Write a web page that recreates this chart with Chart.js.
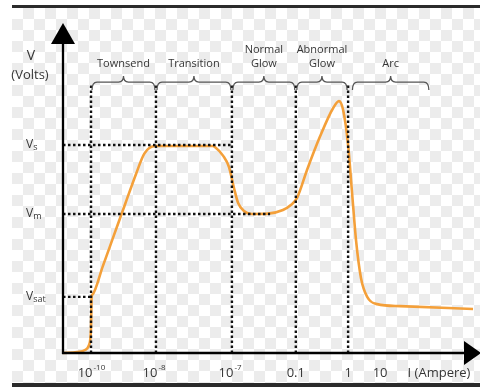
<!DOCTYPE html>
<html><head><meta charset="utf-8">
<script src="https://cdn.jsdelivr.net/npm/chart.js@4"></script>
<style>
html,body{margin:0;padding:0;background:#fff;}
#wrap{position:relative;width:480px;height:387px;overflow:hidden;background:#fff;}
#checker{position:absolute;left:12px;top:8px;width:468px;height:376px;background:repeating-conic-gradient(#ececec 0 25%, #ffffff 0 50%) 0 0/22px 22px;}
#topbar{position:absolute;left:12px;top:5px;width:468px;height:3px;background:#2b2b2b;}
#botbar{position:absolute;left:12px;top:383px;width:468px;height:4px;background:#2b2b2b;}
canvas{position:absolute;left:0;top:0;}
</style></head><body>
<div id="wrap"><div id="checker"></div><div id="topbar"></div><div id="botbar"></div><canvas id="c" width="480" height="387"></canvas></div>
<script>
// Schematic V-I curve of a gas discharge (axis units: 0-100 schematic positions)
const curveX = [0, 3.4, 5.3, 6.2, 6.6, 6.75, 6.9, 7.1, 9.6, 12.3, 15.0, 17.6, 19.6, 22.2, 36.1, 36.6, 38.6, 40.0, 41.2, 42.2, 43.6, 45.5, 49.4, 53.0, 54.9, 56.4, 58.8, 61.9, 65.1, 66.5, 67.5, 68.7, 69.6, 70.6, 71.8, 73.3, 75.7, 81.2, 98.8];
const curveY = [0, 0.3, 0.9, 2.2, 4.5, 8.0, 17.1, 17.8, 26.5, 36.0, 45.5, 54.6, 60.8, 63.1, 63.1, 62.8, 60.1, 56.7, 50.3, 45.7, 43.3, 42.4, 42.5, 43.6, 45.1, 47.3, 55.8, 65.9, 74.7, 76.8, 74.1, 63.4, 49.7, 34.5, 22.9, 17.1, 14.9, 14.3, 13.4];

const tickPositions = [6.75, 22.4, 40.7, 56.1, 68.7, 76.4];
const tickBase = ['10', '10', '10', '0.1', '1', '10'];
const tickExp = ['-10', '-8', '-7', '', '', ''];
const dividerPositions = [6.75, 22.4, 40.7, 56.1, 68.7];

const levelValues = [63.4, 42.4, 17.1];
const levelMain = ['V', 'V', 'V'];
const levelSub = ['s', 'm', 'sat'];
const levelLineEnds = [40.7, 49.9, 6.75];

const regionLines = [['Townsend'], ['Transition'], ['Normal', 'Glow'], ['Abnormal', 'Glow'], ['Arc']];
const regionStart = [6.75, 22.4, 40.7, 56.1, 69.5];
const regionEnd = [22.4, 40.7, 56.1, 68.7, 88.4];
const braceLevel = 82.6;
const dividerTop = 82.3;

const yAxisTitle = ['V', '(Volts)'];
const xAxisTitle = 'I (Ampere)';

const FONT = '"Open Sans", "DejaVu Sans", sans-serif';
const TEXT = '#363636';

const decor = {
  id: 'decor',
  afterDatasetsDraw(chart) {
    const ctx = chart.ctx;
    const xs = chart.scales.x, ys = chart.scales.y;
    const X = v => xs.getPixelForValue(v), Y = v => ys.getPixelForValue(v);
    const x0 = X(0), y0 = Y(0);
    ctx.save();
    // dotted guide lines
    ctx.strokeStyle = '#111';
    ctx.lineWidth = 2.4;
    ctx.setLineDash([2.5, 2.5]);
    dividerPositions.forEach(p => {
      ctx.beginPath(); ctx.moveTo(X(p), y0); ctx.lineTo(X(p), Y(dividerTop)); ctx.stroke();
    });
    levelValues.forEach((v, i) => {
      ctx.beginPath(); ctx.moveTo(x0, Y(v)); ctx.lineTo(X(levelLineEnds[i]), Y(v)); ctx.stroke();
    });
    ctx.setLineDash([]);
    // axes
    ctx.strokeStyle = '#000'; ctx.fillStyle = '#000';
    ctx.lineWidth = 2.3;
    ctx.beginPath(); ctx.moveTo(x0, y0 + 1); ctx.lineTo(x0, 42); ctx.stroke();
    ctx.beginPath(); ctx.moveTo(x0 - 1, y0); ctx.lineTo(466, y0); ctx.stroke();
    ctx.beginPath(); ctx.moveTo(x0, 23); ctx.lineTo(x0 - 12, 44); ctx.lineTo(x0 + 12, 44); ctx.closePath(); ctx.fill();
    ctx.beginPath(); ctx.moveTo(481, y0); ctx.lineTo(464, y0 - 12); ctx.lineTo(464, y0 + 12); ctx.closePath(); ctx.fill();
    // braces
    ctx.strokeStyle = '#555'; ctx.lineWidth = 1.3;
    const by = Y(braceLevel);
    regionStart.forEach((s, i) => {
      const a = X(s) + 1, b = X(regionEnd[i]) - 1, m = (a + b) / 2, r = 5;
      ctx.beginPath();
      ctx.moveTo(a, by + 8);
      ctx.quadraticCurveTo(a, by, a + r, by);
      ctx.lineTo(m - r, by);
      ctx.quadraticCurveTo(m, by, m, by - 6);
      ctx.quadraticCurveTo(m, by, m + r, by);
      ctx.lineTo(b - r, by);
      ctx.quadraticCurveTo(b, by, b, by + 8);
      ctx.stroke();
      // labels
      ctx.fillStyle = TEXT; ctx.font = '11px ' + FONT;
      ctx.textAlign = 'center'; ctx.textBaseline = 'middle';
      const lines = regionLines[i];
      lines.forEach((t, k) => {
        const ty = by - 18 - (lines.length - 1 - k) * 14;
        ctx.fillText(t, m, ty);
      });
    });
    // x tick labels
    ctx.fillStyle = TEXT;
    const ty = y0 + 20;
    tickPositions.forEach((p, i) => {
      const px = X(p);
      if (tickExp[i]) {
        ctx.font = '13px ' + FONT; ctx.textAlign = 'right'; ctx.textBaseline = 'middle';
        ctx.fillText(tickBase[i], px + 1.5, ty);
        ctx.font = '8px ' + FONT; ctx.textAlign = 'left';
        ctx.fillText(tickExp[i], px + 2.5, ty - 5);
      } else {
        ctx.font = '13px ' + FONT; ctx.textAlign = 'center'; ctx.textBaseline = 'middle';
        ctx.fillText(tickBase[i], px, ty);
      }
    });
    ctx.font = '13px ' + FONT; ctx.textAlign = 'center'; ctx.textBaseline = 'middle';
    ctx.fillText(xAxisTitle, 439, ty);
    // y level labels
    levelValues.forEach((v, i) => {
      const py = Y(v);
      ctx.font = '12px ' + FONT; ctx.textAlign = 'left'; ctx.textBaseline = 'middle';
      ctx.fillText(levelMain[i], 26, py);
      const w = ctx.measureText(levelMain[i]).width;
      ctx.font = '9px ' + FONT;
      ctx.fillText(levelSub[i], 26 + w, py + 2.5);
    });
    // y title
    ctx.textAlign = 'center';
    ctx.font = '14px ' + FONT; ctx.fillText(yAxisTitle[0], 31, 56);
    ctx.font = '13px ' + FONT; ctx.fillText(yAxisTitle[1], 30, 75);
    ctx.restore();
  }
};

new Chart(document.getElementById('c'), {
  type: 'line',
  data: {
    datasets: [{
      data: curveX.map((x, i) => ({ x, y: curveY[i] })),
      borderColor: '#f4a03a',
      borderWidth: 2.6,
      pointRadius: 0,
      fill: false,
      cubicInterpolationMode: 'monotone',
      clip: false
    }]
  },
  options: {
    responsive: false,
    animation: false,
    events: [],
    layout: { padding: { left: 63, right: 2, top: 25, bottom: 34 } },
    plugins: { legend: { display: false }, tooltip: { enabled: false } },
    scales: {
      x: { type: 'linear', min: 0, max: 100, display: false },
      y: { type: 'linear', min: 0, max: 100, display: false }
    }
  },
  plugins: [decor]
});
</script>
</body></html>
